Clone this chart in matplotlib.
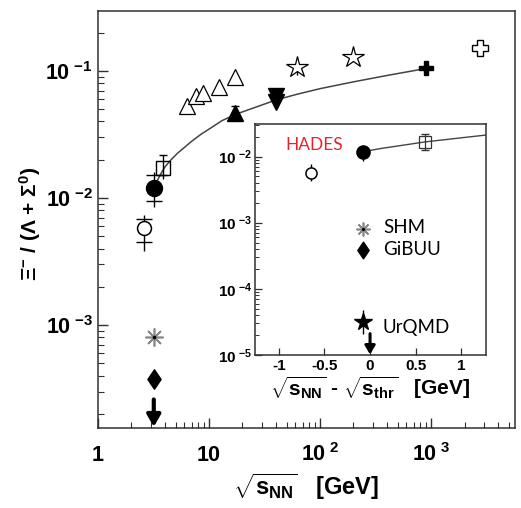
import numpy as np
import matplotlib
matplotlib.use("Agg")
import matplotlib.pyplot as plt
from matplotlib.ticker import FixedLocator, FixedFormatter, LogLocator, NullFormatter
from matplotlib.path import Path

plt.rcParams['font.family'] = ['Liberation Sans', 'DejaVu Sans']
plt.rcParams['mathtext.fontset'] = 'custom'
plt.rcParams['mathtext.rm'] = 'Liberation Sans'
plt.rcParams['mathtext.bf'] = 'Liberation Sans:bold'
plt.rcParams['mathtext.it'] = 'Liberation Sans:italic'

# ---------------- main panel data ----------------
oc_x = [2.6];   oc_y = [0.0058];  oc_lo = [0.0020]; oc_hi = [0.0016]; oc_clo = [0.0013]; oc_chi = [0.0010]
fc_x = [3.18];  fc_y = [0.0120];  fc_lo = [0.0035]; fc_hi = [0.0040]; fc_clo = [0.0025]; fc_chi = [0.0032]
sq_x = [3.85];  sq_y = [0.0172];  sq_lo = [0.0030]; sq_hi = [0.0046]; sq_clo = [0.0020]; sq_chi = [0.0046]
tri_open_x = [6.3, 7.6, 8.8, 12.3, 17.3]
tri_open_y = [0.053, 0.0636, 0.067, 0.0748, 0.0897]
tri_fill_x = [17.3]; tri_fill_y = [0.047]; tri_fill_err = [0.006]
tri_down_x = [40, 40]; tri_down_y = [0.064, 0.057]
star_x = [62.4, 200]; star_y = [0.107, 0.129]; star_lo = [0.014, 0.0]
pfill_x = [900]; pfill_y = [0.106]; pfill_err = [0.012]
popen_x = [2760]; popen_y = [0.152]
shm_x = [3.18]; shm_y = [8.0e-4]
gibuu_x = [3.18]; gibuu_y = [3.76e-4]
ulim_x = [3.18]; ulim_y = [2.6e-4]
fit_x = [3.3, 3.6, 4.0, 4.5, 5.2, 6.0, 7.0, 8.5, 10.5, 13, 17.3, 25, 40, 62, 100, 200, 400, 900]
fit_y = [0.0128, 0.0150, 0.0175, 0.0198, 0.0225, 0.0250, 0.0280, 0.0318, 0.0358, 0.0405,
         0.0455, 0.0510, 0.0590, 0.0655, 0.0725, 0.0820, 0.0920, 0.1045]
x_ticks = [1, 10, 100, 1000]
x_ticklabels = [r'$\mathbf{1}$', r'$\mathbf{10}$', r'$\mathbf{10}^{\ \mathbf{2}}$', r'$\mathbf{10}^{\ \mathbf{3}}$']
y_ticks = [1e-3, 1e-2, 1e-1]
y_ticklabels = [r'$\mathbf{10}^{\ \mathbf{-3}}$', r'$\mathbf{10}^{\ \mathbf{-2}}$', r'$\mathbf{10}^{\ \mathbf{-1}}$']

# ---------------- inset data ----------------
in_fc_x = [-0.077]; in_fc_y = [0.0118]; in_fc_lo = [0.0033]; in_fc_hi = [0.0015]
in_oc_x = [-0.65];  in_oc_y = [0.0057]; in_oc_lo = [0.0015]; in_oc_hi = [0.0021]
in_sq_x = [0.60];   in_sq_y = [0.0166]; in_sq_lo = [0.0040]; in_sq_hi = [0.0050]
in_fit_x = [-0.077, 0.1, 0.3, 0.6, 0.9, 1.27]
in_fit_y = [0.0118, 0.0131, 0.0144, 0.0166, 0.0185, 0.0211]
in_shm_x = [-0.077]; in_shm_y = [8.1e-4]
in_gibuu_x = [-0.077]; in_gibuu_y = [3.8e-4]
in_urqmd_x = [-0.077]; in_urqmd_y = [3.2e-5]; in_urqmd_lo = [1.1e-5]; in_urqmd_hi = [1.6e-5]
in_ulim_x = [0.0]; in_ulim_y = [2.1e-5]
in_x_ticks = [-1, -0.5, 0, 0.5, 1]
in_x_ticklabels = ['-1', '-0.5', '0', '0.5', '1']
in_y_ticks = [1e-5, 1e-4, 1e-3, 1e-2]
in_y_ticklabels = [r'$\mathbf{10}^{\ \mathbf{-5}}$', r'$\mathbf{10}^{\ \mathbf{-4}}$',
                   r'$\mathbf{10}^{\ \mathbf{-3}}$', r'$\mathbf{10}^{\ \mathbf{-2}}$']

FR = '#303030'
diamond = Path([(0, 1), (0.68, 0), (0, -1), (-0.68, 0), (0, 1)],
               [Path.MOVETO, Path.LINETO, Path.LINETO, Path.LINETO, Path.CLOSEPOLY])

W, H = 521, 508
fig = plt.figure(figsize=(W / 100, H / 100), dpi=100)
ax = fig.add_axes([98 / W, 1 - 428 / H, (515 - 98) / W, (428 - 11) / H])
ax.set_xscale('log'); ax.set_yscale('log')
ax.set_xlim(1, 5700); ax.set_ylim(1.55e-4, 0.296)

def style_frame(a):
    for s in a.spines.values():
        s.set_color(FR); s.set_linewidth(1.1)

style_frame(ax)
ax.tick_params(which='both', direction='in', top=False, right=False, color=FR)
ax.tick_params(which='major', length=7, width=1.0, labelsize=15.5)
ax.tick_params(which='minor', length=4, width=0.8)
ax.tick_params(axis='x', pad=24)
ax.tick_params(axis='y', pad=4)
ax.xaxis.set_major_locator(FixedLocator(x_ticks))
ax.xaxis.set_major_formatter(FixedFormatter(x_ticklabels))
ax.yaxis.set_major_locator(FixedLocator(y_ticks))
ax.yaxis.set_major_formatter(FixedFormatter(y_ticklabels))
for axis in (ax.xaxis, ax.yaxis):
    axis.set_minor_locator(LogLocator(base=10, subs=np.arange(2, 10), numticks=50))
    axis.set_minor_formatter(NullFormatter())
plt.setp(ax.get_xticklabels(), va='baseline')

def sys_err(a, x, y, lo, hi, clo, chi, cs, lw=1.0):
    a.errorbar(x, y, yerr=[lo, hi], fmt='none', ecolor='k', elinewidth=lw, capsize=0, zorder=2)
    a.errorbar(x, y, yerr=[clo, chi], fmt='none', ecolor='k', elinewidth=0, capsize=cs,
               capthick=lw, zorder=2)

# fit curve
ax.plot(fit_x, fit_y, '-', color='#444444', lw=1.1, zorder=1)
# error bars
sys_err(ax, oc_x, oc_y, oc_lo, oc_hi, oc_clo, oc_chi, 6)
sys_err(ax, fc_x, fc_y, fc_lo, fc_hi, fc_clo, fc_chi, 6)
sys_err(ax, sq_x, sq_y, sq_lo, sq_hi, sq_clo, sq_chi, 3)
ax.plot(oc_x, oc_y, 'o', ms=10, mfc='white', mec='k', mew=1.1, zorder=3)
ax.plot(fc_x, fc_y, 'o', ms=11.5, color='k', zorder=3)
ax.plot(sq_x, sq_y, 's', ms=10.5, mfc='none', mec='k', mew=1.0, zorder=3)
ax.plot(tri_open_x, tri_open_y, '^', ms=12, mfc='white', mec='k', mew=0.9, ls='none', zorder=3)
ax.errorbar(tri_fill_x, tri_fill_y, yerr=tri_fill_err, fmt='^', ms=11, color='k', capsize=3,
            elinewidth=1.2, zorder=3)
ax.plot(tri_down_x, tri_down_y, 'v', ms=12, color='k', ls='none', zorder=3)
ax.errorbar(star_x, star_y, yerr=[star_lo, [0, 0]], fmt='none', ecolor='k', elinewidth=1.0, zorder=2)
ax.plot(star_x, star_y, '*', ms=16, mfc='white', mec='k', mew=0.9, ls='none', zorder=3)
ax.errorbar(pfill_x, pfill_y, yerr=pfill_err, fmt='none', ecolor='k', elinewidth=1.2, zorder=2)
ax.plot(pfill_x, pfill_y, 'P', ms=10, color='k', zorder=3)
ax.plot(popen_x, popen_y, 'P', ms=12, mfc='white', mec='k', mew=1.0, zorder=3)
ax.plot(shm_x, shm_y, marker=(8, 2, 0), ms=13, color='#888888', mew=1.2, ls='none', zorder=3)
ax.plot(shm_x, shm_y, '.', ms=3, color='k', zorder=4)
ax.plot(gibuu_x, gibuu_y, marker=diamond, ms=14, color='k', ls='none', zorder=3)
y_bot = ax.get_ylim()[0]
for xu, yu in zip(ulim_x, ulim_y):
    ax.annotate('', xy=(xu, y_bot * 1.02), xytext=(xu, yu),
                arrowprops=dict(arrowstyle='-|>,head_length=0.7,head_width=0.4', color='k',
                                lw=3.0, shrinkA=0, shrinkB=0), zorder=3)

ax.set_xlabel(r'$\sqrt{\mathbf{s}_{\mathbf{NN}}}$   $\mathbf{[GeV]}$', fontsize=17, va='center')
ax.xaxis.set_label_coords(0.5, (428 - 487) / 417)
ax.set_ylabel(r'$\mathbf{\Xi^{-}}$ / ($\mathbf{\Lambda}$ + $\mathbf{\Sigma^{0}}$)', fontsize=15,
              fontweight='bold', va='center')
ax.yaxis.set_label_coords((30 - 98) / 417, 0.49)

# ---------------- inset ----------------
axi = fig.add_axes([255 / W, 1 - 355 / H, (486 - 255) / W, (355 - 124) / H])
axi.set_yscale('log')
axi.set_xlim(-1.26, 1.27); axi.set_ylim(1e-5, 0.031)
style_frame(axi)
axi.tick_params(which='both', direction='in', top=False, right=False, color=FR)
axi.tick_params(which='major', length=5, width=0.9, labelsize=11)
axi.tick_params(which='minor', length=3, width=0.7)
axi.tick_params(axis='x', pad=3)
axi.tick_params(axis='y', pad=2)
axi.xaxis.set_major_locator(FixedLocator(in_x_ticks))
axi.xaxis.set_major_formatter(FixedFormatter(in_x_ticklabels))
axi.yaxis.set_major_locator(FixedLocator(in_y_ticks))
axi.yaxis.set_major_formatter(FixedFormatter(in_y_ticklabels))
axi.yaxis.set_minor_locator(LogLocator(base=10, subs=np.arange(2, 10), numticks=50))
axi.yaxis.set_minor_formatter(NullFormatter())
for lbl in axi.get_xticklabels():
    lbl.set_fontweight('bold')

axi.plot(in_fit_x, in_fit_y, '-', color='#444444', lw=1.0, zorder=1)
axi.errorbar(in_fc_x, in_fc_y, yerr=[in_fc_lo, in_fc_hi], fmt='o', ms=9.5, color='k',
             elinewidth=1.0, zorder=3)
axi.errorbar(in_oc_x, in_oc_y, yerr=[in_oc_lo, in_oc_hi], fmt='none', ecolor='k',
             elinewidth=1.0, zorder=2)
axi.plot(in_oc_x, in_oc_y, 'o', ms=8, mfc='white', mec='k', mew=1.1, zorder=3)
axi.errorbar(in_sq_x, in_sq_y, yerr=[in_sq_lo, in_sq_hi], fmt='none', ecolor='#333333',
             elinewidth=0.9, capsize=3, zorder=2)
axi.plot(in_sq_x, in_sq_y, 's', ms=8.5, mfc='none', mec='#333333', mew=0.9, zorder=3)
axi.plot(in_shm_x, in_shm_y, marker=(8, 2, 0), ms=10, color='#888888', mew=1.2, ls='none', zorder=3)
axi.plot(in_shm_x, in_shm_y, '.', ms=2.5, color='k', zorder=4)
axi.plot(in_gibuu_x, in_gibuu_y, marker=diamond, ms=12, color='k', ls='none', zorder=3)
axi.errorbar(in_urqmd_x, in_urqmd_y, yerr=[in_urqmd_lo, in_urqmd_hi], fmt='none', ecolor='k',
             elinewidth=1.0, zorder=2)
axi.plot(in_urqmd_x, in_urqmd_y, '*', ms=13, color='k', zorder=3)
yb = axi.get_ylim()[0]
for xu, yu in zip(in_ulim_x, in_ulim_y):
    axi.annotate('', xy=(xu, yb * 1.02), xytext=(xu, yu),
                 arrowprops=dict(arrowstyle='-|>,head_length=0.5,head_width=0.3', color='k',
                                 lw=2.2, shrinkA=0, shrinkB=0), zorder=3)

axi.text(0.13, 0.909, 'HADES', color='#e8222b', fontsize=12.5, family=['Lato', 'DejaVu Sans'],
         transform=axi.transAxes, va='center', ha='left')
for s, yy in [('SHM', 0.554), ('GiBUU', 0.455), ('UrQMD', 0.121)]:
    axi.text(0.554, yy, s, color='k', fontsize=13.5, family=['Lato', 'DejaVu Sans'],
             transform=axi.transAxes, va='center', ha='left')

axi.set_xlabel(r'$\sqrt{\mathbf{s}_{\mathbf{NN}}}$ - $\sqrt{\mathbf{s}_{\mathbf{thr}}}$   $\mathbf{[GeV]}$',
               fontsize=15, fontweight='bold', va='center')
axi.xaxis.set_label_coords(0.5, (355 - 388) / 231)

fig.savefig('out.png', dpi=100)
